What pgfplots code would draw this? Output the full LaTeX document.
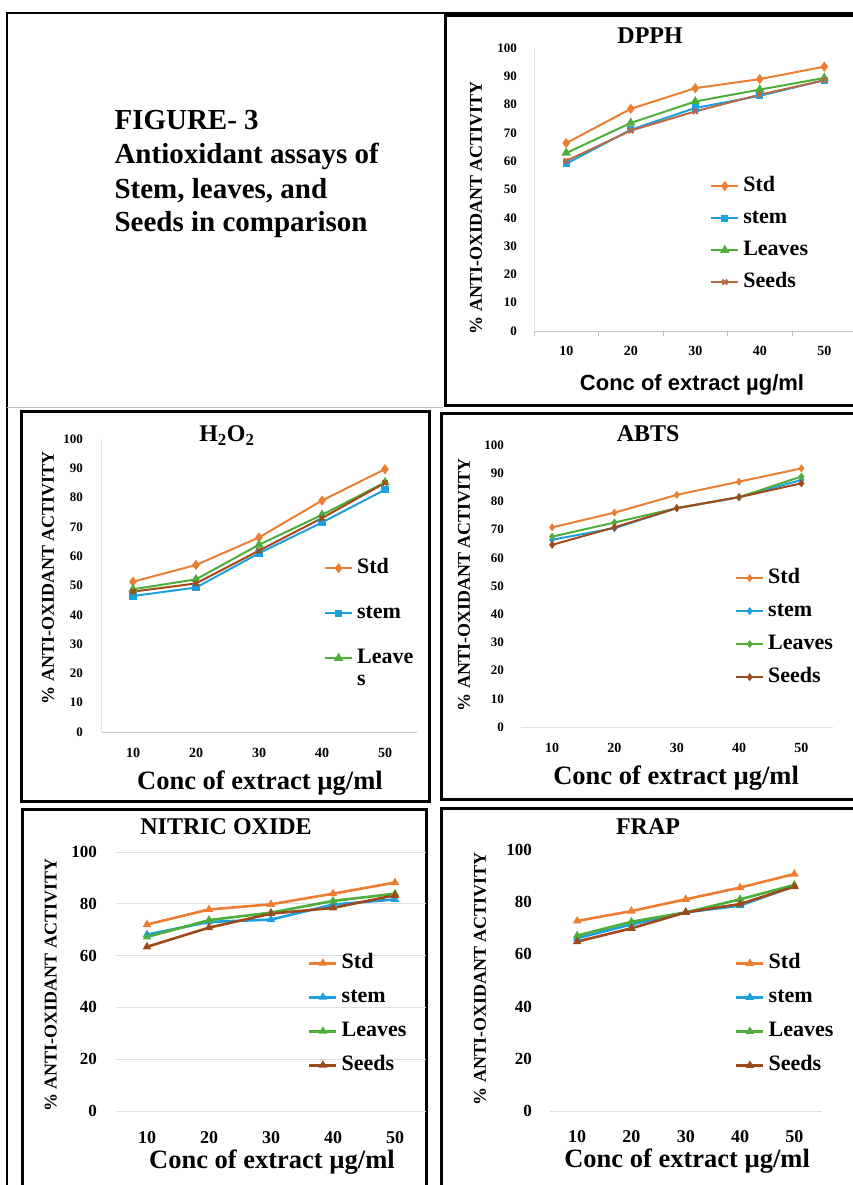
\documentclass[border=0pt]{standalone}
\usepackage{fontspec}
\setmainfont{Liberation Serif}
\setsansfont{Liberation Sans}
\usepackage{pgfplots}
\pgfplotsset{compat=1.18}

\definecolor{cstd}{HTML}{ED7D31}
\definecolor{cstem}{HTML}{1EA0E0}
\definecolor{cleaf}{HTML}{4DAF3A}
\definecolor{cseed}{HTML}{A04A1C}
\definecolor{cseedl}{HTML}{B86A45}

\newcommand\fs[1]{\fontsize{#1}{#1}\selectfont\bfseries}

\pgfplotsset{
  panel/.style={
    scale only axis, ymin=0, ymax=100, xmin=5, xmax=55,
    xtick={10,20,30,40,50},
    /pgf/number format/assume math mode=true,
    axis x line*=bottom, axis y line*=left,
    axis line style={-},
    x axis line style={draw=gray!45, line width=0.8pt},
    y axis line style={draw=none},
    major tick length=0pt,
    tick label style={inner sep=0pt},
    xlabel={Conc of extract µg/ml},
    ylabel={\% ANTI-OXIDANT ACTIVITY},
    legend cell align=left,
    legend style={draw=none, fill=none, anchor=north west, inner sep=0pt,
      column sep=4pt, font=\fs{22},
      nodes={inner sep=0pt, text height=15pt, text depth=5pt}},
    legend image code/.code={\draw[mark repeat=2,mark phase=2,##1]
      plot coordinates {(0pt,0pt) (13.5pt,0pt) (27pt,0pt)};},
  },
  small/.style={
    yticklabel style={font=\fs{13}}, xticklabel style={font=\fs{14}},
    ytick={0,10,...,100},
    every axis plot/.append style={line width=2pt},
  },
  big/.style={
    yticklabel style={font=\fs{17}}, xticklabel style={font=\fs{18}},
    ytick={0,20,...,100},
    every axis plot/.append style={line width=2.6pt, mark=triangle*, mark size=2.4pt},
  },
}

\begin{document}
\begin{tikzpicture}
\useasboundingbox (0pt,0pt) rectangle (852pt,1185pt);

% frames
\draw[line width=2pt] (7pt,-5pt) -- (7pt,1172pt) -- (860pt,1172pt);
\draw[gray!50, line width=1pt] (7pt,777pt) -- (443pt,777pt);
\draw[line width=3pt] (445pt,779pt) rectangle (862pt,1169pt);
\draw[line width=3pt] (21.5pt,383pt) rectangle (429pt,773.5pt);
\draw[line width=3pt] (441pt,385pt) rectangle (862pt,771pt);
\draw[line width=3pt] (22.5pt,-5pt) rectangle (426pt,375pt);
\draw[line width=3pt] (441pt,-5pt) rectangle (862pt,376pt);

% figure caption
\node[anchor=base west, font=\fs{29}] at (111pt,1055pt) {FIGURE- 3};
\node[anchor=base west, font=\fs{29}] at (111pt,1021pt) {Antioxidant assays of};
\node[anchor=base west, font=\fs{29}] at (111pt,986pt) {Stem, leaves, and};
\node[anchor=base west, font=\fs{29}] at (111pt,953pt) {Seeds in comparison};

% DPPH
\begin{axis}[panel, small, at={(534pt,854pt)}, anchor=south west,
  width=322.5pt, height=283pt,
  y axis line style={draw=gray!20},
  yticklabel shift=17pt, xticklabel shift=15pt,
  extra x ticks={5,15,25,35,45}, extra x tick labels={},
  extra tick style={major tick length=5pt, tick style={gray!50}, tick align=outside},
  title={DPPH},
  title style={at={(axis description cs:0.36,1.021)}, anchor=center, font=\fs{24}},
  xlabel style={at={(axis description cs:0.49,-0.191)}, anchor=center, font=\sffamily\fs{22}},
  ylabel style={at={(axis description cs:-0.18,0.435)}, anchor=center, font=\fs{18}},
  legend style={at={(0.546,0.548)}, row sep=12pt}]
\addplot[cstd, mark=diamond*, mark size=3.5pt] coordinates {(10,66.4) (20,78.5) (30,85.8) (40,89.0) (50,93.4)};
\addlegendentry{Std}
\addplot[cstem, mark=square*, mark size=2.6pt] coordinates {(10,59.1) (20,71.1) (30,78.8) (40,83.1) (50,88.6)};
\addlegendentry{stem}
\addplot[cleaf, mark=triangle*, mark size=3.5pt] coordinates {(10,62.9) (20,73.5) (30,81.1) (40,85.3) (50,89.4)};
\addlegendentry{Leaves}
\addplot[cseedl, mark=x, mark size=3.5pt] coordinates {(10,60.1) (20,70.8) (30,77.6) (40,83.5) (50,88.6)};
\addlegendentry{Seeds}
\end{axis}

% H2O2
\begin{axis}[panel, small, at={(101.5pt,453pt)}, anchor=south west,
  width=315pt, height=293pt,
  y axis line style={draw=gray!20},
  yticklabel shift=18.5pt, xticklabel shift=16pt,
  title={H\textsubscript{2}O\textsubscript{2}},
  title style={at={(axis description cs:0.398,0.99)}, anchor=center, font=\fs{24}},
  xlabel style={at={(axis description cs:0.503,-0.174)}, anchor=center, font=\fs{26.5}},
  ylabel style={at={(axis description cs:-0.17,0.526)}, anchor=center, font=\fs{18}},
  legend style={at={(0.706,0.594)}, row sep=25pt}]
\addplot[cstd, mark=diamond*, mark size=3.5pt] coordinates {(10,51.3) (20,57.0) (30,66.4) (40,79.0) (50,89.7)};
\addlegendentry{Std}
\addplot[cstem, mark=square*, mark size=2.6pt] coordinates {(10,46.4) (20,49.3) (30,61.0) (40,71.5) (50,82.7)};
\addlegendentry{stem}
\addplot[cleaf, mark=triangle*, mark size=3.5pt] coordinates {(10,48.7) (20,52.1) (30,63.9) (40,74.1) (50,85.2)};
\addlegendentry{\begin{tabular}[t]{@{}l@{}}Leave\\s\end{tabular}}
\addplot[cseed, mark=x, mark size=3.5pt, forget plot] coordinates {(10,47.9) (20,50.7) (30,61.9) (40,73.0) (50,85.0)};
\end{axis}

% ABTS
\begin{axis}[panel, small, at={(521pt,458pt)}, anchor=south west,
  width=311.5pt, height=282pt,
  x axis line style={draw=gray!25},
  yticklabel shift=17pt, xticklabel shift=16pt,
  every axis plot/.append style={mark=diamond*, mark size=2.4pt},
  title={ABTS},
  title style={at={(axis description cs:0.408,1.018)}, anchor=center, font=\fs{24}},
  xlabel style={at={(axis description cs:0.498,-0.181)}, anchor=center, font=\fs{26.5}},
  ylabel style={at={(axis description cs:-0.183,0.504)}, anchor=center, font=\fs{18}},
  legend style={at={(0.687,0.564)}, row sep=13pt}]
\addplot[cstd] coordinates {(10,70.8) (20,76.0) (30,82.3) (40,87.0) (50,91.7)};
\addlegendentry{Std}
\addplot[cstem] coordinates {(10,66.4) (20,70.5) (30,77.6) (40,81.5) (50,87.6)};
\addlegendentry{stem}
\addplot[cleaf] coordinates {(10,67.5) (20,72.5) (30,77.6) (40,81.5) (50,88.8)};
\addlegendentry{Leaves}
\addplot[cseed] coordinates {(10,64.6) (20,70.8) (30,77.6) (40,81.5) (50,86.4)};
\addlegendentry{Seeds}
\end{axis}

% NITRIC OXIDE
\begin{axis}[panel, big, at={(116pt,74pt)}, anchor=south west,
  width=310pt, height=259pt,
  x axis line style={draw=gray!25},
  ymajorgrids, grid style={gray!25, line width=0.8pt},
  yticklabel shift=19pt, xticklabel shift=20pt,
  title={NITRIC OXIDE},
  title style={at={(axis description cs:0.355,1.073)}, anchor=center, font=\fs{24}},
  xlabel style={at={(axis description cs:0.503,-0.197)}, anchor=center, font=\fs{26.5}},
  ylabel style={at={(axis description cs:-0.21,0.486)}, anchor=center, font=\fs{18}},
  legend style={at={(0.619,0.61)}, row sep=14pt}]
\addplot[cstd] coordinates {(10,72.0) (20,77.8) (30,79.8) (40,83.9) (50,88.2)};
\addlegendentry{Std}
\addplot[cstem] coordinates {(10,68.1) (20,73.0) (30,73.9) (40,79.7) (50,81.7)};
\addlegendentry{stem}
\addplot[cleaf] coordinates {(10,67.2) (20,73.7) (30,76.6) (40,81.1) (50,83.9)};
\addlegendentry{Leaves}
\addplot[cseed] coordinates {(10,63.4) (20,70.8) (30,76.2) (40,78.4) (50,83.3)};
\addlegendentry{Seeds}
\end{axis}

% FRAP
\begin{axis}[panel, big, at={(550pt,74pt)}, anchor=south west,
  width=271.5pt, height=261pt,
  x axis line style={draw=gray!25},
  yticklabel shift=18pt, xticklabel shift=19pt,
  title={FRAP},
  title style={at={(axis description cs:0.361,1.065)}, anchor=center, font=\fs{24}},
  xlabel style={at={(axis description cs:0.505,-0.192)}, anchor=center, font=\fs{26.5}},
  ylabel style={at={(axis description cs:-0.258,0.506)}, anchor=center, font=\fs{18}},
  legend style={at={(0.681,0.605)}, row sep=14pt}]
\addplot[cstd] coordinates {(10,72.8) (20,76.6) (30,81.1) (40,85.6) (50,90.8)};
\addlegendentry{Std}
\addplot[cstem] coordinates {(10,66.2) (20,71.5) (30,76.1) (40,78.7) (50,86.2)};
\addlegendentry{stem}
\addplot[cleaf] coordinates {(10,67.2) (20,72.5) (30,76.1) (40,81.1) (50,86.6)};
\addlegendentry{Leaves}
\addplot[cseed] coordinates {(10,64.9) (20,70.0) (30,76.1) (40,79.3) (50,86.0)};
\addlegendentry{Seeds}
\end{axis}
\end{tikzpicture}
\end{document}
